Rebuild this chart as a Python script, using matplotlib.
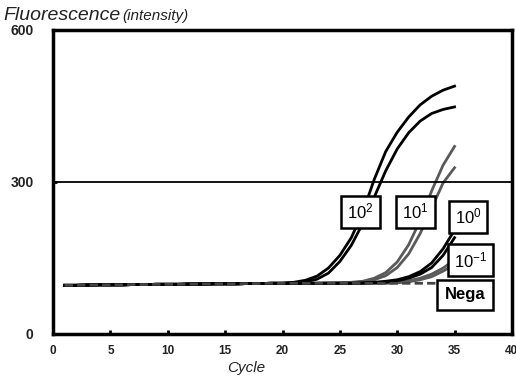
import matplotlib
matplotlib.use("Agg")
import matplotlib.pyplot as plt
import numpy as np

plt.rcParams['font.family'] = ['Liberation Sans', 'DejaVu Sans']

# cycles 1..35
cycles = np.arange(1, 36)

# common flat baseline, cycles 1..20
baseline = [96, 96, 96.5, 97, 97, 97, 97.5, 97.5, 98, 98,
            98, 98.5, 98.5, 99, 99, 99, 99.5, 99.5, 100, 100]

# cycles 21..35 for each run
hi_a = [102, 106, 114, 130, 155, 190, 240, 305, 360, 398, 428, 452, 469, 481, 489]
hi_b = [101, 103, 108, 120, 143, 175, 218, 270, 322, 365, 397, 420, 435, 443, 448]
ten_a = [100, 100, 100, 101, 101, 102, 104, 110, 121, 142, 176, 224, 282, 333, 370]
ten_b = [100, 100, 100, 100, 101, 101, 103, 107, 115, 131, 158, 198, 248, 298, 328]
one_a = [100, 100, 100, 100, 100, 100, 101, 102, 104, 107, 113, 123, 140, 168, 205]
one_b = [100, 100, 100, 100, 100, 100, 100, 101, 102, 105, 110, 118, 131, 155, 190]
tenth_a = [100, 100, 100, 100, 100, 100, 100, 100, 101, 102, 105, 110, 118, 130, 146]
tenth_b = [100, 100, 100, 100, 100, 100, 100, 100, 100, 101, 103, 107, 113, 124, 137]
nega = [100, 100, 100, 100, 100, 100, 100, 100, 100, 100, 100, 100, 100, 100, 100]

threshold = 300

# label text, x, y (data units), bold
labels = [
    (r'$\mathregular{10^2}$', 26.8, 241, False),
    (r'$\mathregular{10^1}$', 31.6, 241, False),
    (r'$\mathregular{10^0}$', 36.2, 231, False),
    (r'$\mathregular{10^{-1}}$', 36.4, 146, False),
    ('Nega', 35.9, 77, True),
]

fig = plt.figure(figsize=(5.16, 3.83), dpi=100)
ax = fig.add_axes([0.103, 0.128, 0.889, 0.794])

black = '#000000'
grey = '#5a5a5a'

for vals, col in [(tenth_a, grey), (tenth_b, grey), (ten_a, grey), (ten_b, grey),
                  (one_a, black), (one_b, black), (hi_a, black), (hi_b, black)]:
    ax.plot(cycles, baseline + vals, color=col, lw=2.0, solid_joinstyle='round')
ax.plot(cycles, baseline + nega, color='#444444', lw=2.0, dashes=(3, 1.5))

ax.axhline(threshold, color='black', lw=1.3)

for txt, x, y, bold in labels:
    ax.text(x, y, txt, fontsize=12, ha='center', va='center', zorder=5,
            fontweight='bold' if bold else 'normal',
            bbox=dict(boxstyle='square,pad=%s' % (0.45 if bold else 0.35),
                      fc='white', ec='black', lw=1.8))

ax.set_xlim(0, 40)
ax.set_ylim(0, 600)
ax.set_xticks(range(0, 41, 5))
ax.set_yticks([0, 300, 600])
for s in ax.spines.values():
    s.set_linewidth(2.5)
ax.tick_params(direction='in', length=3, width=2, colors='black',
               labelcolor='#222222')
ax.tick_params(axis='y', labelsize=10, pad=14)
ax.tick_params(axis='x', labelsize=8.5, pad=8)
for lab in ax.get_xticklabels() + ax.get_yticklabels():
    lab.set_fontweight('bold')

# axis title: big word, small unit right after it
t1 = fig.text(0.006, 0.948, 'Fluorescence', fontsize=14, style='italic',
              color='#222222', va='baseline')
fig.canvas.draw()
bb = t1.get_window_extent().transformed(fig.transFigure.inverted())
fig.text(bb.x1 + 0.003, 0.948, '(intensity)', fontsize=11, style='italic',
         color='#222222', va='baseline')
fig.text(0.44, 0.03, 'Cycle', fontsize=11, style='italic', color='#222222')

fig.savefig('out.png', dpi=100)
